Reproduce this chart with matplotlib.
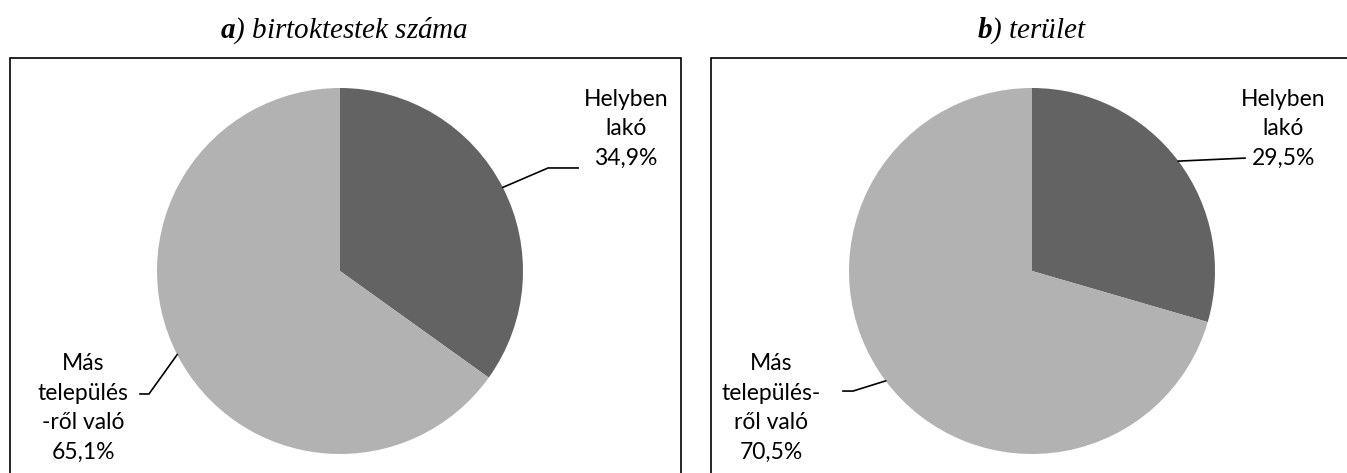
import numpy as np
import matplotlib
matplotlib.use("Agg")
import matplotlib.pyplot as plt
from matplotlib.patches import Rectangle

# adatok
titles = ["a", "b"]
title_texts = [") birtoktestek száma", ") terület"]
shares = [[34.9, 65.1], [29.5, 70.5]]
labels = [["Helyben\nlakó\n34,9%", "Más\ntelepülés\n-ről való\n65,1%"],
          ["Helyben\nlakó\n29,5%", "Más\ntelepülés-\nről való\n70,5%"]]
colors = ["#636363", "#b2b2b2"]

plt.rcParams['mathtext.fontset'] = 'custom'
plt.rcParams['mathtext.bf'] = 'Liberation Serif:italic:bold'
plt.rcParams['mathtext.rm'] = 'Liberation Serif:italic'

W, H = 1347, 473
fig = plt.figure(figsize=(W / 100, H / 100), dpi=100)

R = 183
centers = [(340, 271), (1032, 271)]
boxes = [(10, 681), (711, 1400)]

# label positions (pie radius units) and leader elbows
label_pos = [[(1.563, 0.776), (-1.404, -0.749)],
             [(1.372, 0.776), (-1.426, -0.749)]]
leaders = [[[(1.137, 0.563), (1.301, 0.563)], [(-1.044, -0.672), (-1.093, -0.672)]],
           [[(1.164, 0.617)], [(-0.978, -0.656), (-1.033, -0.656)]]]

for k in range(2):
    cx, cy = centers[k]
    ax = fig.add_axes([(cx - R) / W, (H - cy - R) / H, 2 * R / W, 2 * R / H])
    ax.pie(shares[k], colors=colors, startangle=90, counterclock=False,
           radius=1, wedgeprops=dict(linewidth=0))
    ax.set_xlim(-1, 1)
    ax.set_ylim(-1, 1)
    ax.set_aspect('auto')
    ax.axis('off')

    # leader lines from wedge middle
    start = 90.0
    for i, v in enumerate(shares[k]):
        ang = np.deg2rad(start - v * 3.6 / 2)
        start -= v * 3.6
        pts = [(np.cos(ang), np.sin(ang))] + leaders[k][i]
        xs, ys = zip(*pts)
        ax.plot(xs, ys, color='black', lw=1.2, clip_on=False)
        lx, ly = label_pos[k][i]
        ax.text(lx, ly, labels[k][i], ha='center', va='center', fontsize=16.5,
                family='Lato', linespacing=1.5, clip_on=False)

    x0, x1 = boxes[k]
    fig.add_artist(Rectangle((x0 / W, -0.1), (x1 - x0) / W, (H - 58) / H + 0.1,
                             transform=fig.transFigure, fill=False,
                             edgecolor='black', lw=1.2))

    fig.text(cx / W + 0.003 * (1 - k), (H - 31) / H,
             r"$\mathbf{" + titles[k] + "}$" + title_texts[k],
             ha='center', va='center', fontsize=21, family='Liberation Serif',
             style='italic')

fig.savefig("out.png", dpi=100)
